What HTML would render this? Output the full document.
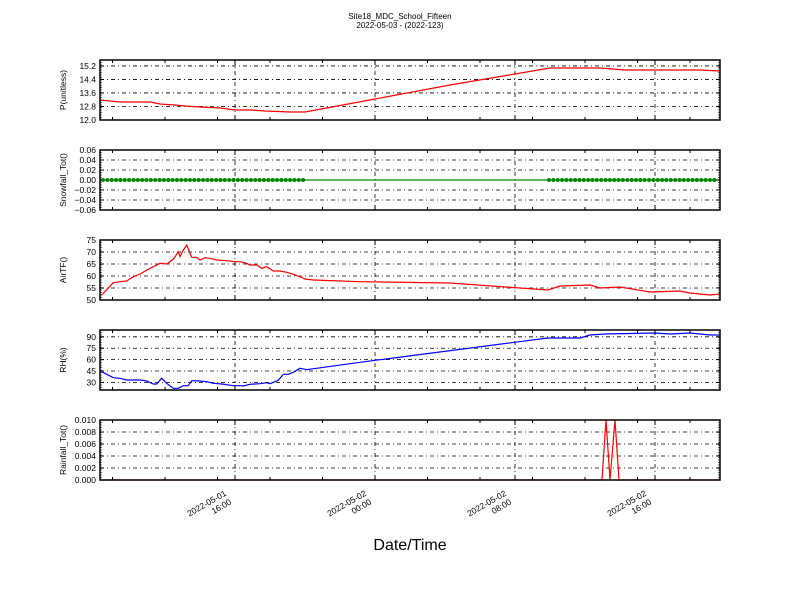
<!DOCTYPE html>
<html><head><meta charset="utf-8"><style>body{margin:0;background:#fff}svg{display:block}text{font-family:"Liberation Sans",sans-serif}</style></head>
<body><svg id="s" width="800" height="600" xmlns="http://www.w3.org/2000/svg"></svg>
<script>
const s=document.getElementById('s');let h='';
h+='<text x="400" y="19" font-size="8" text-anchor="middle">Site18_MDC_School_Fifteen</text>';
h+='<text x="400" y="28" font-size="8" text-anchor="middle">2022-05-03 - (2022-123)</text>';
h+='<text x="410" y="550" font-size="16" text-anchor="middle">Date/Time</text>';
const X0=100,X1=720,majors=[235,375,515,655];
const minors=[];for(let x=235-7*17.5;x<=720;x+=52.5)if(x>=100)minors.push(x);
function panel(top,label,ticks,lo,hi,pts,color){
 const b=top+60,sc=v=>b-(v-lo)/(hi-lo)*60;
 let g='';
 ticks.forEach(t=>{const y=sc(t[0]);g+=`<line x1="${X0}" x2="${X1}" y1="${y}" y2="${y}" stroke="#000" stroke-width="0.8" stroke-dasharray="4,3,1,3"/>`;});
 majors.forEach(x=>g+=`<line x1="${x}" x2="${x}" y1="${top}" y2="${b}" stroke="#000" stroke-width="0.8" stroke-dasharray="4,3,1,3"/>`);
 g+=`<polyline points="${pts}" fill="none" stroke="${color}" stroke-width="1.2"/>`;
 ticks.forEach(t=>{const y=sc(t[0]);g+=`<line x1="${X0}" x2="${X0+4}" y1="${y}" y2="${y}" stroke="#000"/><line x1="${X1-4}" x2="${X1}" y1="${y}" y2="${y}" stroke="#000"/><text x="${X0-4}" y="${y+3}" font-size="8.5" text-anchor="end">${t[1]}</text>`;});
 for(let y=top;y<=b;y+=2.5){g+=`<line x1="${X0}" x2="${X0+2}" y1="${y}" y2="${y}" stroke="#000" stroke-width="0.6"/><line x1="${X1-2}" x2="${X1}" y1="${y}" y2="${y}" stroke="#000" stroke-width="0.6"/>`;}
 majors.forEach(x=>g+=`<line x1="${x}" x2="${x}" y1="${top}" y2="${top+5}" stroke="#000"/><line x1="${x}" x2="${x}" y1="${b-5}" y2="${b}" stroke="#000"/>`);
 minors.forEach(x=>g+=`<line x1="${x}" x2="${x}" y1="${top}" y2="${top+3}" stroke="#000"/><line x1="${x}" x2="${x}" y1="${b-3}" y2="${b}" stroke="#000"/>`);
 g+=`<rect x="${X0}" y="${top}" width="${X1-X0}" height="60" fill="none" stroke="#000" stroke-width="1.5"/>`;
 g+=`<text transform="translate(66,${top+30}) rotate(-90)" font-size="8.5" text-anchor="middle">${label}</text>`;
 return g;
}
function z(arr){return arr.map(p=>(40+p[0]/3).toFixed(1)+','+(p[1]/3+p[2]).toFixed(1)).join(' ');}
let p1='100,100 110,101 120,102 140,102 150,102 160,104 175,105 185,106 200,107 220,108 235,110 250,110 265,111 290,112 305,112 375,99 450,85 515,74 550,68 580,68 600,68 625,70 700,70 720,71';
h+=panel(60,'P(unitless)',[[12,'12.0'],[12.8,'12.8'],[13.6,'13.6'],[14.4,'14.4'],[15.2,'15.2']],12,15.55,p1,'#f00');
h+=panel(150,'Snowfall_Tot()',[[-0.06,'\u22120.06'],[-0.04,'\u22120.04'],[-0.02,'\u22120.02'],[0,'0.00'],[0.02,'0.02'],[0.04,'0.04'],[0.06,'0.06']],-0.06,0.06,'100,180 720,180','#080');
for(let x=103;x<=306;x+=4.35)h+=`<circle cx="${x}" cy="180" r="2" fill="#080"/>`;
for(let x=549;x<=718;x+=4.35)h+=`<circle cx="${x}" cy="180" r="2" fill="#080"/>`;
const a3=[[185,180],[220,143],[240,140],[260,138],[280,125],[300,117],[330,100],[345,93],[360,85],[380,87],[400,73],[420,65],[415,50],[428,48],[440,30],[455,67],[470,67],[480,75],[495,68],[510,70],[530,75],[560,77],[585,80],[600,80],[620,85],[630,90],[650,90],[665,100],[680,95],[700,108],[720,108],[740,112],[755,116],[770,122],[780,125],[795,132],[820,135],[960,140]].map(p=>[p[0],p[1],235]);
a3.sort((a,b)=>a[0]-b[0]);
let p3=z(a3)+' 450,283 548,290 560,286 590,285 600,288 620,287 650,292 680,291 690,293 710,295 720,294';
h+=panel(240,'AirTF()',[[50,'50'],[55,'55'],[60,'60'],[65,'65'],[70,'70'],[75,'75']],50,75,p3,'#f00');
const a4=[[185,410],[220,428],[240,430],[260,435],[300,435],[320,438],[340,447],[350,447],[365,430],[380,445],[400,460],[415,460],[430,452],[445,452],[455,437],[480,438],[500,440],[520,445],[545,447],[580,452],[600,452],[610,453],[630,448],[660,446],[680,443],[690,446],[715,436],[730,418],[745,418],[760,412],[780,400],[800,404],[960,382]].map(p=>[p[0],p[1],235]);
let p4=z(a4)+' 548,338 580,338 590,335 605,334 655,333 670,334 690,333 710,335 720,335';
h+=panel(330,'RH(%)',[[30,'30'],[45,'45'],[60,'60'],[75,'75'],[90,'90']],20,99,p4,'#00f');
h+=panel(420,'Rainfall_Tot()',[[0,'0.000'],[0.002,'0.002'],[0.004,'0.004'],[0.006,'0.006'],[0.008,'0.008'],[0.01,'0.010']],0,0.01,'100,480 602,480 606,420 610,480 615,420 619,480 720,480','#f00');
const lab=[['2022-05-01','16:00'],['2022-05-02','00:00'],['2022-05-02','08:00'],['2022-05-02','16:00']];
majors.forEach((x,i)=>{h+=`<g transform="translate(${x-8},${495}) rotate(-30)"><text x="0" y="0" font-size="8.5" text-anchor="end">${lab[i][0]}</text><text x="0" y="10" font-size="8.5" text-anchor="end">${lab[i][1]}</text></g>`;});
s.innerHTML=h;
</script></body></html>
